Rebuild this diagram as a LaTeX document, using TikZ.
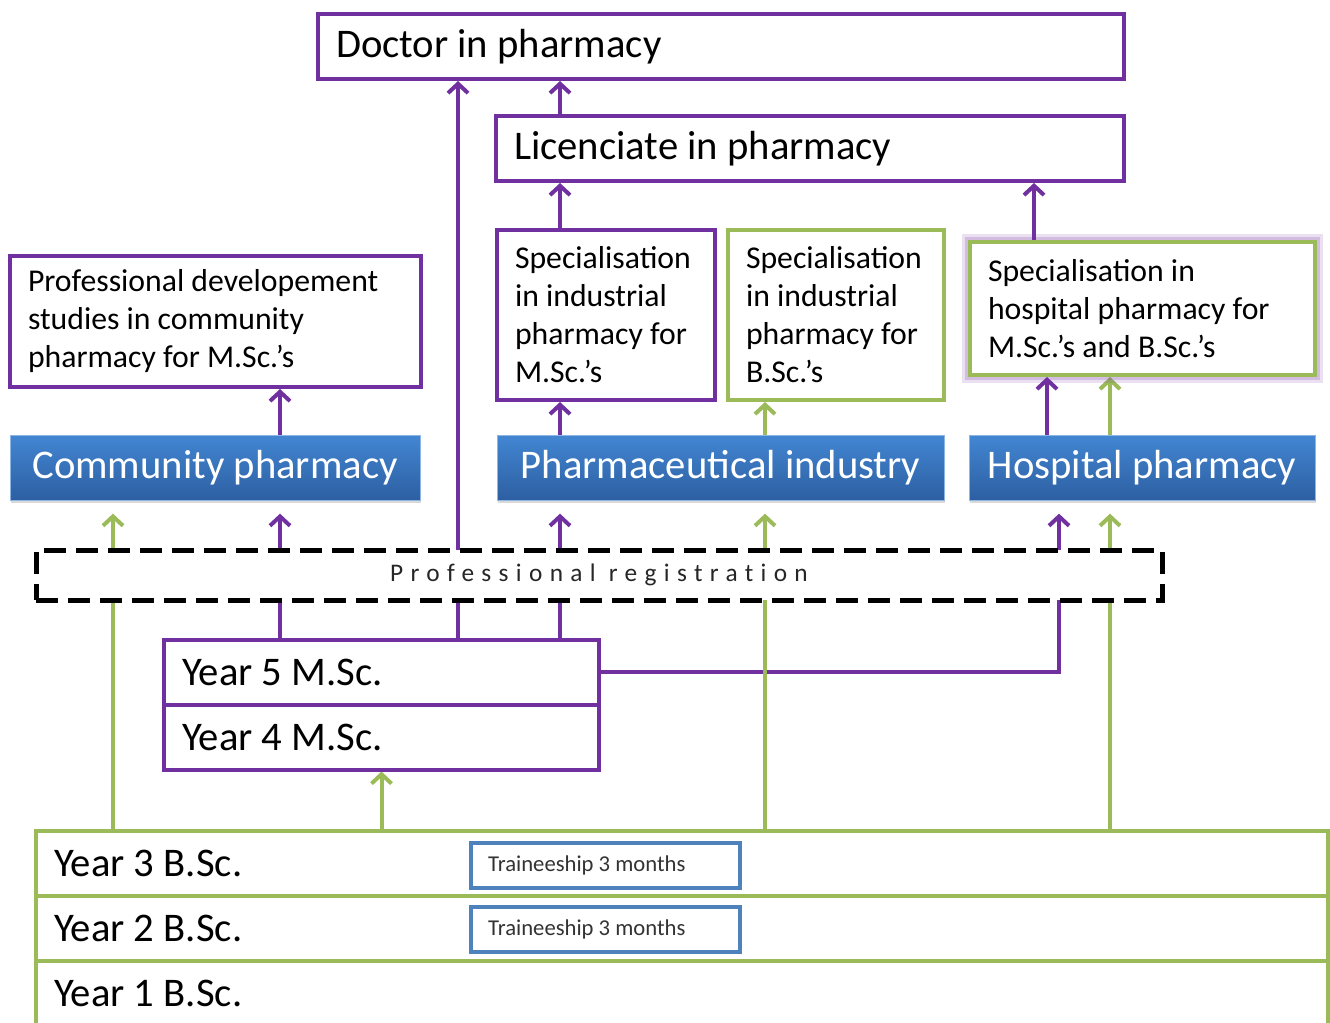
\documentclass[tikz,border=0pt]{standalone}
\usepackage{fontspec}
\setmainfont{Carlito}
\newfontfamily\regfont[LetterSpace=29,Ligatures={NoCommon,NoRare,NoContextual}]{Carlito}
\usepackage{tikz}
\usetikzlibrary{arrows.meta,positioning,shadows,backgrounds}
\definecolor{purp}{RGB}{112,48,160}
\definecolor{grn}{RGB}{155,187,89}
\definecolor{trblue}{RGB}{79,129,189}
\definecolor{bluetop}{RGB}{66,134,210}
\definecolor{bluebot}{RGB}{45,95,162}
\tikzset{
  box/.style={rectangle, draw=purp, line width=3pt, fill=white, align=flush left,
              inner xsep=13.5pt, inner ysep=0pt, minimum height=48.75pt,
              font=\fontsize{30.5}{36}\selectfont},
  gbox/.style={box, draw=grn},
  spec/.style={font=\fontsize{23.8}{28.5}\selectfont},
  sector/.style={rectangle, top color=bluetop, bottom color=bluebot,
                 draw=bluetop!60!white, line width=.5pt, text=white,
                 minimum height=48.75pt, font=\fontsize{30.5}{36}\selectfont,
                 drop shadow={shadow xshift=1pt, shadow yshift=-2.5pt, opacity=.3}},
  trainee/.style={box, draw=trblue, minimum height=33.75pt, inner xsep=12.75pt,
                  text width=176pt, font=\fontsize{17}{20}\selectfont, text=black!80},
  regbox/.style={rectangle, draw=black, line width=3.75pt,
                 dash pattern=on 16.5pt off 7.5pt, fill=white,
                 minimum width=844.5pt, minimum height=37.5pt,
                 font=\regfont\fontsize{19}{22}\selectfont, text=black!85},
  glow/.style={preaction={draw=purp, draw opacity=.15, line width=12pt},
               preaction={draw=purp, draw opacity=.2, line width=8pt}},
  parr/.style={-{Straight Barb[length=7pt,width=15pt]}, line width=3pt, draw=purp},
  garr/.style={parr, draw=grn},
  gap/.style={shorten >=10pt},
}

\begin{document}
\begin{tikzpicture}[x=0.75pt, y=-0.75pt, node distance=-3pt]
  \useasboundingbox (0,0) rectangle (1330,1022);
  \node[box, text width=577.5pt] (doc) at (721,46.5) {Doctor in pharmacy};
  \node[box, text width=444pt] (lic) at (810,148.5) {Licenciate in pharmacy};
  \node[box, spec, text width=281.25pt, minimum height=98.25pt] (dev) at (215.5,321.5)
    {Professional developement\\studies in community\\pharmacy for M.Sc.'s};
  \node[box, spec, text width=136.5pt, minimum height=127.5pt] (spm) at (606,315)
    {Specialisation\\in industrial\\pharmacy for\\M.Sc.'s};
  \node[gbox, spec, text width=135pt, minimum height=127.5pt] (spb) at (836,315)
    {Specialisation\\in industrial\\pharmacy for\\B.Sc.'s};
  \node[gbox, spec, glow, text width=231.75pt, minimum height=99.75pt] (sph) at (1142.5,308.5)
    {Specialisation in\\hospital pharmacy for\\M.Sc.'s and B.Sc.'s};
  \node[sector, minimum width=307.5pt] (comm) at (215,467.5) {Community pharmacy};
  \node[sector, minimum width=335.25pt] (ind) at (720.5,467.5) {Pharmaceutical industry};
  \node[sector, minimum width=259.5pt] (hosp) at (1142,467.5) {Hospital pharmacy};
  \node[regbox] (reg) at (599,575) {Professional registration};
  \node[box, text width=299.25pt] (yr5) at (381.5,672) {Year 5 M.Sc.};
  \node[box, text width=299.25pt, below=of yr5] (yr4) {Year 4 M.Sc.};
  \node[gbox, text width=942pt] (yr3) at (682,863.5) {Year 3 B.Sc.};
  \node[gbox, text width=942pt, below=of yr3] (yr2) {Year 2 B.Sc.};
  \node[gbox, text width=942pt, below=of yr2] (yr1) {Year 1 B.Sc.};
  \node[trainee] (tr3) at (605.5,865.5) {Traineeship 3 months};
  \node[trainee] (tr2) at (605.5,929.5) {Traineeship 3 months};

  \foreach \n/\x in {ga/113, pa/280, pc/458, pd/560, ge/765, pi/1034, ph/1047, pf/1059, gg/1110}
    \coordinate (\n) at (\x,0);

  \begin{pgfonlayer}{background}
    \draw[garr, gap] (yr3.north -| ga) -- (comm.south -| ga);
    \draw[parr, gap] (yr5.north -| pa) -- (comm.south -| pa);
    \draw[parr] (comm.north -| pa) -- (dev.south -| pa);
    \draw[parr] (yr5.north -| pc) -- (doc.south -| pc);
    \draw[parr, gap] (yr5.north -| pd) -- (ind.south -| pd);
    \draw[parr] (ind.north -| pd) -- (spm.south -| pd);
    \draw[parr] (spm.north -| pd) -- (lic.south -| pd);
    \draw[parr] (lic.north -| pd) -- (doc.south -| pd);
    \draw[parr] (sph.north -| pi) -- (lic.south -| pi);
    \draw[parr, gap] (yr5.east) -| (hosp.south -| pf);
    \draw[parr] (hosp.north -| ph) -- (sph.south -| ph);
    \draw[garr] (yr3.north -| yr4.south) -- (yr4.south);
    \draw[garr, gap] (yr3.north -| ge) -- (ind.south -| ge);
    \draw[garr] (ind.north -| ge) -- (spb.south -| ge);
    \draw[garr, gap] (yr3.north -| gg) -- (hosp.south -| gg);
    \draw[garr] (hosp.north -| gg) -- (sph.south -| gg);
  \end{pgfonlayer}
\end{tikzpicture}
\end{document}
